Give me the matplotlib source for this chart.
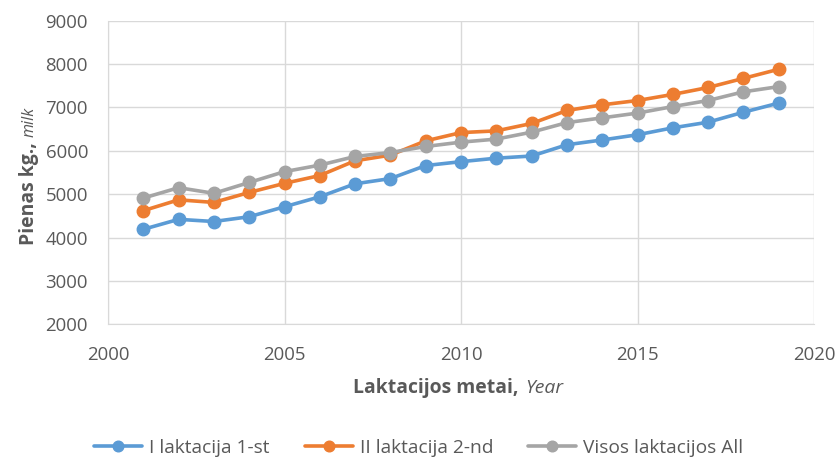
import matplotlib
matplotlib.use("Agg")
import matplotlib.pyplot as plt

years = list(range(2001, 2020))
first_lact = [4190, 4420, 4370, 4480, 4710, 4940, 5240, 5360, 5660, 5750,
              5830, 5880, 6140, 6250, 6370, 6530, 6660, 6890, 7100]
second_lact = [4620, 4870, 4810, 5040, 5250, 5430, 5770, 5900, 6230, 6420,
               6460, 6630, 6930, 7060, 7160, 7300, 7460, 7670, 7880]
all_lact = [4910, 5150, 5020, 5270, 5520, 5670, 5870, 5960, 6100, 6200,
            6270, 6430, 6650, 6760, 6870, 7020, 7160, 7360, 7480]
series_labels = ["I laktacija 1-st", "II laktacija 2-nd", "Visos laktacijos All"]
colors = ["#5B9BD5", "#ED7D31", "#A5A5A5"]

FONT = "Open Sans"
TXT = "#595959"
plt.rcParams["font.family"] = [FONT, "DejaVu Sans"]

W, H = 840, 457
fig = plt.figure(figsize=(W / 100, H / 100), dpi=100)
r = fig.canvas.get_renderer()


def fit_size(s, target_px, **kw):
    t = fig.text(0, 0, s, fontsize=10, **kw)
    w = t.get_window_extent(r).width
    t.remove()
    return 10 * target_px / w


tick_fs = fit_size("9000", 43)
leg_fs = fit_size("I laktacija 1-st", 121)
xb_fs = fit_size("Laktacijos metai,", 166, fontweight="bold")
xi_fs = fit_size("Year", 38, fontstyle="italic")
yb_fs = fit_size("Pienas kg.,", 103, fontweight="bold")
yi_fs = fit_size("milk", 30, fontstyle="italic")

ax = fig.add_axes([108 / W, 1 - 324.3 / H, (814 - 108) / W, (324.3 - 20.7) / H])

for vals, lab, c in zip([first_lact, second_lact, all_lact], series_labels, colors):
    ax.plot(years, vals, color=c, lw=2.6, marker="o", ms=9, label=lab,
            solid_capstyle="round")

ax.set_xlim(2000, 2020)
ax.set_ylim(2000, 9000)
ax.set_xticks(range(2000, 2021, 5))
ax.set_yticks(range(2000, 9001, 1000))
ax.grid(True, color="#D9D9D9", lw=1)
ax.set_axisbelow(True)
for s in ["top", "right"]:
    ax.spines[s].set_visible(False)
for s in ["left", "bottom"]:
    ax.spines[s].set_color("#D9D9D9")
ax.tick_params(axis="both", length=0, labelsize=tick_fs, labelcolor=TXT)
ax.tick_params(axis="y", pad=20 / 1.389)
ax.tick_params(axis="x", pad=22 / 1.389)

# legend
px_per_em = leg_fs * 100 / 72
handles, labels = ax.get_legend_handles_labels()
fig.legend(handles, labels, loc="center", bbox_to_anchor=(419 / W, 1 - 448 / H),
           ncol=3, frameon=False, fontsize=leg_fs, labelcolor=TXT,
           handlelength=48 / px_per_em, handletextpad=7 / px_per_em,
           columnspacing=35 / px_per_em, markerscale=0.85)

# x label (mixed style)
t1 = fig.text(353 / W, 1 - 393 / H, "Laktacijos metai,", fontsize=xb_fs, fontweight="bold",
              color=TXT, ha="left", va="baseline")
bb = t1.get_window_extent(r)
fig.text((bb.x1 + 7) / W, 1 - 393 / H, "Year", fontsize=xi_fs, fontstyle="italic",
         color=TXT, ha="left", va="baseline")

# y label (rotated, mixed style)
t2 = fig.text(34 / W, 1 - 245 / H, "Pienas kg.,", fontsize=yb_fs, fontweight="bold",
              color=TXT, ha="left", va="baseline", rotation=90, rotation_mode="anchor")
bb2 = t2.get_window_extent(r)
fig.text(34 / W, (bb2.y1 + 5) / H, "milk", fontsize=yi_fs, fontstyle="italic",
         color=TXT, ha="left", va="baseline", rotation=90, rotation_mode="anchor")

fig.savefig("out.png", dpi=100)
